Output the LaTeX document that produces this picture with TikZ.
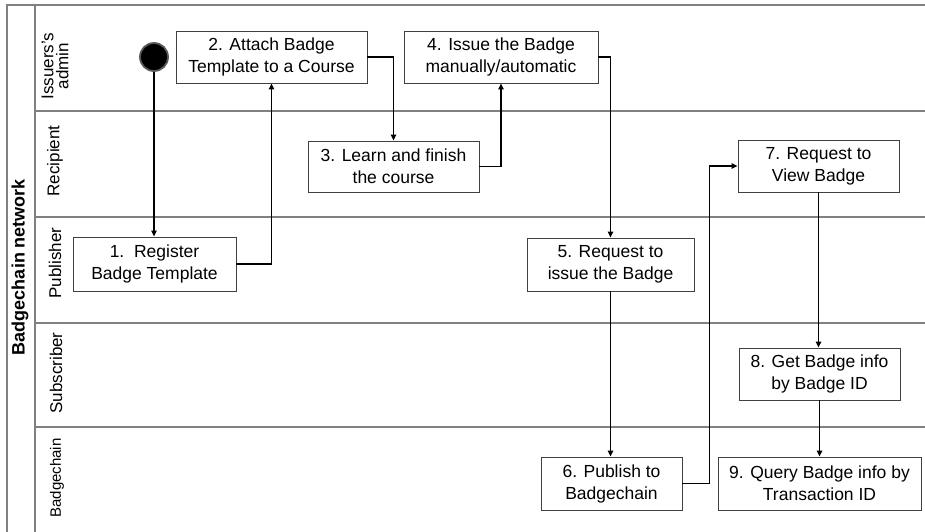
\documentclass[tikz,border=0pt]{standalone}
\usepackage{fontspec}
\setmainfont{Liberation Sans}
\usetikzlibrary{arrows.meta,calc}
\begin{document}
\begin{tikzpicture}[x=1pt,y=-1pt,
  frameline/.style={draw=black!50,line width=1.4pt},
  stepbox/.style={draw=black!75,line width=0.9pt,fill=white,align=center,inner sep=0pt,
     font=\fontsize{17.5}{22}\selectfont},
  lanelabel/.style={rotate=90,align=center,inner sep=0pt,font=\fontsize{17}{15}\selectfont},
  flow/.style={draw=black,line width=1.4pt,-{Triangle[length=6pt,width=5.5pt]}},
]
\useasboundingbox (0,0) rectangle (925,532);
% frame and lanes
\draw[frameline] (7,532) -- (7,5) -- (925,5);
\draw[frameline] (35,5) -- (35,532);
\draw[frameline] (35,111) -- (925,111);
\draw[frameline] (35,217) -- (925,217);
\draw[frameline] (35,323) -- (925,323);
\draw[frameline] (35,427) -- (925,427);
% labels
\node[rotate=90,inner sep=0pt,font=\fontsize{18}{18}\bfseries] (net) at (20,267) {Badgechain network};
\node[lanelabel] (l1) at (55,66) {Issuers's\\admin};
\node[lanelabel] (l2) at (55,161) {Recipient};
\node[lanelabel] (l3) at (55,263) {Publisher};
\node[lanelabel] (l4) at (56,373) {Subscriber};
\node[lanelabel,font=\fontsize{15}{15}\selectfont] (l5) at (57,478) {Badgechain};
% start
\node[circle,fill=black,draw=black!65,line width=1.8pt,minimum size=28pt,inner sep=0pt] (start) at (154,57) {};
% steps
\node[stepbox,minimum width=163pt,minimum height=54pt] (b1) at (154.5,264) {1.\ \ Register\\Badge Template};
\node[stepbox,minimum width=191pt,minimum height=52pt] (b2) at (271.5,57) {2. Attach Badge\\Template to a Course};
\node[stepbox,minimum width=171pt,minimum height=51pt] (b3) at (393.5,166.5) {3. Learn and finish\\the course};
\node[stepbox,minimum width=194pt,minimum height=52pt] (b4) at (501,57) {4. Issue the Badge\\manually/automatic};
\node[stepbox,minimum width=167pt,minimum height=53pt] (b5) at (610.5,264.5) {5. Request to\\issue the Badge};
\node[stepbox,minimum width=141pt,minimum height=53pt] (b6) at (611.5,483.5) {6. Publish to\\Badgechain};
\node[stepbox,minimum width=161pt,minimum height=52pt] (b7) at (818.5,166) {7. Request to\\View Badge};
\node[stepbox,minimum width=161pt,minimum height=52pt] (b8) at (819.5,374) {8. Get Badge info\\by Badge ID};
\node[stepbox,minimum width=203pt,minimum height=53pt] (b9) at (819.5,483.5) {9. Query Badge info by\\Transaction ID};
% connectors
\draw[flow] (start.south) -- (start.south |- b1.north);
\draw[flow] (b1.east) -| (b2.south);
\draw[flow] (b2.east) -| (b3.north);
\draw[flow] (b3.east) -| (b4.south);
\draw[flow] (b4.east) -| (b5.north);
\draw[flow] (b5.south) -- (b5.south |- b6.north);
\coordinate (turn) at ($(b6.east)+(27,0)$);
\draw[flow] (b6.east) -- (turn) |- (b7.west);
\draw[flow] (b7.south) -- (b7.south |- b8.north);
\draw[flow] (b8.south) -- (b8.south |- b9.north);
\end{tikzpicture}
\end{document}
